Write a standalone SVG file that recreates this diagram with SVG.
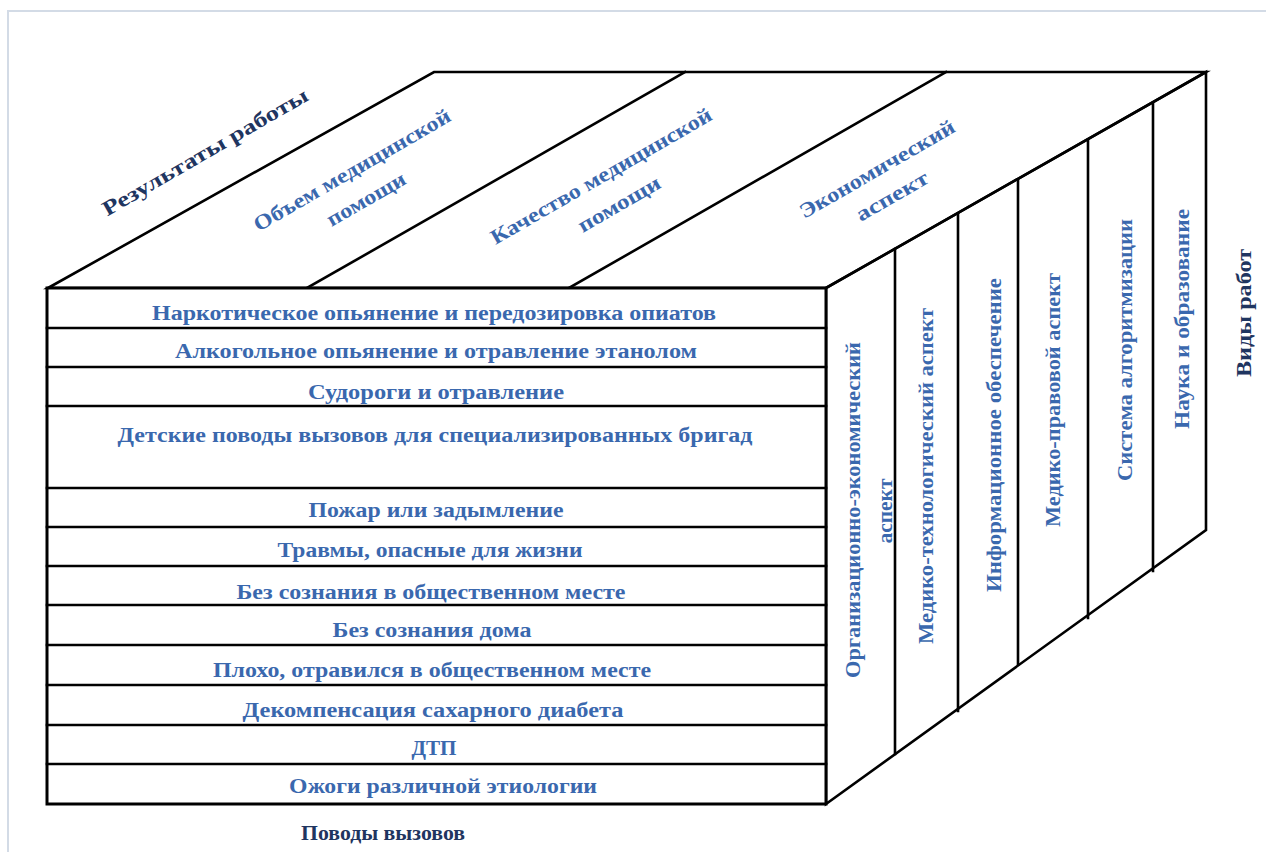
<svg xmlns="http://www.w3.org/2000/svg" width="1266" height="852" viewBox="0 0 1266 852">
<style>
.ln{stroke:#000;stroke-width:2.6;fill:none;stroke-linecap:square}
.fr{stroke:#000;stroke-width:3;fill:#fff}
.t{font-family:"Liberation Serif","Times New Roman",serif;font-weight:bold;fill:#3a68ae;font-size:20px;text-anchor:middle;dominant-baseline:central}
.v{font-size:22px}
.ti{font-family:"Liberation Serif","Times New Roman",serif;font-weight:bold;fill:#3a68ae;font-size:21px;text-anchor:middle;dominant-baseline:central}
.d{fill:#1f3560}
</style>
<rect x="0" y="0" width="1266" height="852" fill="#fff"/>
<path d="M8 852 V11 H1266" stroke="#d3dbe6" stroke-width="2" fill="none"/>

<g id="top-face">
<polygon class="ln" points="48,288 434,72 1206,72 826,288" fill="#fff"/>
<line class="ln" x1="307" y1="288" x2="685" y2="72"/>
<line class="ln" x1="569" y1="288" x2="946" y2="72"/>
<text class="ti d" transform="translate(205,152) rotate(-30)" textLength="234" lengthAdjust="spacingAndGlyphs">Результаты  работы</text>
<g id="top-volume">
<text class="ti" transform="translate(352,170) rotate(-30)" textLength="224" lengthAdjust="spacingAndGlyphs">Объем медицинской</text>
<text class="ti" transform="translate(366,199) rotate(-30)" textLength="88" lengthAdjust="spacingAndGlyphs">помощи</text>
</g>
<g id="top-quality">
<text class="ti" transform="translate(601,176) rotate(-30)" textLength="252" lengthAdjust="spacingAndGlyphs">Качество медицинской</text>
<text class="ti" transform="translate(619,204) rotate(-30)" textLength="92" lengthAdjust="spacingAndGlyphs">помощи</text>
</g>
<g id="top-economic">
<text class="ti" transform="translate(877,169) rotate(-30)" textLength="176" lengthAdjust="spacingAndGlyphs">Экономический</text>
<text class="ti" transform="translate(892,196) rotate(-30)" textLength="80" lengthAdjust="spacingAndGlyphs">аспект</text>
</g>
</g>

<g id="right-face">
<polygon class="ln" points="826,288 1206,72 1206,530 826,804" fill="#fff"/>
<line class="ln" x1="895" y1="249" x2="895" y2="754"/>
<line class="ln" x1="958" y1="214" x2="958" y2="711"/>
<line class="ln" x1="1018" y1="180" x2="1018" y2="664"/>
<line class="ln" x1="1088" y1="140" x2="1088" y2="618"/>
<line class="ln" x1="1153" y1="103" x2="1153" y2="571"/>
<g id="col-org">
<text class="t v" transform="translate(852,510) rotate(-90)" textLength="336" lengthAdjust="spacingAndGlyphs">Организационно-экономический</text>
<text class="t v" transform="translate(884,511) rotate(-90)" textLength="65" lengthAdjust="spacingAndGlyphs">аспект</text>
</g>
<text id="col-medtech" class="t v" transform="translate(925,476) rotate(-90)" textLength="336" lengthAdjust="spacingAndGlyphs">Медико-технологический аспект</text>
<text id="col-info" class="t v" transform="translate(993,435) rotate(-90)" textLength="314" lengthAdjust="spacingAndGlyphs">Информационное обеспечение</text>
<text id="col-legal" class="t v" transform="translate(1052,400) rotate(-90)" textLength="254" lengthAdjust="spacingAndGlyphs">Медико-правовой аспект</text>
<text id="col-algo" class="t v" transform="translate(1124,350) rotate(-90)" textLength="262" lengthAdjust="spacingAndGlyphs">Система алгоритмизации</text>
<text id="col-science" class="t v" transform="translate(1181,319) rotate(-90)" textLength="220" lengthAdjust="spacingAndGlyphs">Наука и образование</text>
</g>
<text id="label-types" class="t v d" transform="translate(1243,313) rotate(-90)" textLength="128" lengthAdjust="spacingAndGlyphs">Виды работ</text>

<g id="front-face">
<rect class="fr" x="47" y="288" width="779" height="516"/>
<line class="ln" x1="47" y1="328" x2="826" y2="328"/>
<line class="ln" x1="47" y1="367" x2="826" y2="367"/>
<line class="ln" x1="47" y1="406" x2="826" y2="406"/>
<line class="ln" x1="47" y1="488" x2="826" y2="488"/>
<line class="ln" x1="47" y1="527" x2="826" y2="527"/>
<line class="ln" x1="47" y1="566" x2="826" y2="566"/>
<line class="ln" x1="47" y1="605" x2="826" y2="605"/>
<line class="ln" x1="47" y1="645" x2="826" y2="645"/>
<line class="ln" x1="47" y1="685" x2="826" y2="685"/>
<line class="ln" x1="47" y1="725" x2="826" y2="725"/>
<line class="ln" x1="47" y1="764" x2="826" y2="764"/>
<text class="t" x="434" y="313" textLength="564" lengthAdjust="spacingAndGlyphs">Наркотическое опьянение и передозировка опиатов</text>
<text class="t" x="436" y="351" textLength="522" lengthAdjust="spacingAndGlyphs">Алкогольное опьянение  и отравление этанолом</text>
<text class="t" x="436" y="392" textLength="256" lengthAdjust="spacingAndGlyphs">Судороги и отравление</text>
<text class="t" x="435" y="435" textLength="635" lengthAdjust="spacingAndGlyphs">Детские поводы вызовов  для специализированных бригад</text>
<text class="t" x="436" y="510" textLength="255" lengthAdjust="spacingAndGlyphs">Пожар или задымление</text>
<text class="t" x="430" y="550" textLength="305" lengthAdjust="spacingAndGlyphs">Травмы, опасные для жизни</text>
<text class="t" x="431" y="592" textLength="389" lengthAdjust="spacingAndGlyphs">Без сознания в общественном месте</text>
<text class="t" x="432" y="630" textLength="199" lengthAdjust="spacingAndGlyphs">Без сознания дома</text>
<text class="t" x="432" y="670" textLength="438" lengthAdjust="spacingAndGlyphs">Плохо, отравился в общественном месте</text>
<text class="t" x="433" y="710" textLength="381" lengthAdjust="spacingAndGlyphs">Декомпенсация сахарного диабета</text>
<text class="t" x="434" y="748" textLength="45" lengthAdjust="spacingAndGlyphs">ДТП</text>
<text class="t" x="443" y="786" textLength="308" lengthAdjust="spacingAndGlyphs">Ожоги различной этиологии</text>
</g>
<text id="label-reasons" class="t d" x="383" y="833" textLength="164" lengthAdjust="spacingAndGlyphs">Поводы вызовов</text>
</svg>
